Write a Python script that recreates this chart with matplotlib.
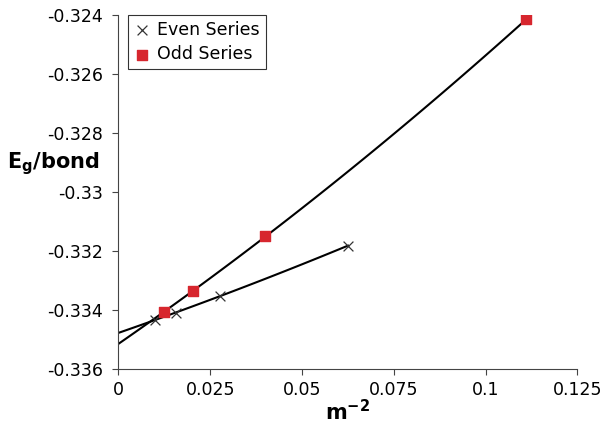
import matplotlib
matplotlib.use("Agg")
import matplotlib.pyplot as plt
import numpy as np

# m^-2 values and E_g per bond
even_x = [1 / 100, 1 / 64, 1 / 36, 1 / 16]
even_y = [-0.33433, -0.3341, -0.33352, -0.33182]
odd_x = [1 / 81, 1 / 49, 1 / 25, 1 / 9]
odd_y = [-0.33406, -0.33335, -0.33151, -0.32414]

x_ticks = [0, 0.025, 0.05, 0.075, 0.1, 0.125]
x_tick_labels = ["0", "0.025", "0.05", "0.075", "0.1", "0.125"]
y_ticks = [-0.336, -0.334, -0.332, -0.33, -0.328, -0.326, -0.324]
y_tick_labels = ["-0.336", "-0.334", "-0.332", "-0.33", "-0.328", "-0.326", "-0.324"]

plt.rcParams['font.family'] = ['DejaVu Sans']

fig = plt.figure(figsize=(6.02, 4.28), dpi=100)
ax = fig.add_axes([0.1968, 0.138, 0.7625, 0.827])

# 2nd order trendlines, extrapolated back to x = 0
for xs, ys in [(even_x, even_y), (odd_x, odd_y)]:
    coef = np.polyfit(xs, ys, 2)
    xx = np.linspace(0, max(xs), 100)
    ax.plot(xx, np.polyval(coef, xx), color='black', linewidth=1.5, zorder=2)

ax.scatter(even_x, even_y, marker='x', color='#333333', s=50, linewidths=0.9,
           label='Even Series', zorder=3)
ax.scatter(odd_x, odd_y, marker='s', color='#d7262e', s=52,
           label='Odd Series', zorder=3)

ax.set_xlim(0, 0.125)
ax.set_ylim(-0.336, -0.324)
ax.set_xticks(x_ticks)
ax.set_xticklabels(x_tick_labels)
ax.set_yticks(y_ticks)
ax.set_yticklabels(y_tick_labels)
ax.tick_params(labelsize=12.5, length=4, width=0.8, color='#444444')
ax.tick_params(axis='y', pad=7)
ax.tick_params(axis='x', pad=5)

ax.spines['top'].set_visible(False)
ax.spines['right'].set_visible(False)
ax.spines['left'].set_color('#444444')
ax.spines['bottom'].set_color('#444444')

ax.set_xlabel(r'$\mathbf{m^{-2}}$', fontsize=15, fontweight='bold', labelpad=0)
fig.text(0.012, 0.618, r'$\mathbf{E_g}$/bond', fontsize=15, fontweight='bold',
         ha='left', va='center')

leg = ax.legend(loc='upper left', bbox_to_anchor=(0.02, 1.0), fontsize=12.5,
                frameon=True, fancybox=False, handletextpad=0.35,
                borderpad=0.35, labelspacing=0.35, handlelength=1.0,
                borderaxespad=0.0)
leg.get_frame().set_edgecolor('black')
leg.get_frame().set_linewidth(0.8)

fig.savefig('out.png', dpi=100)
